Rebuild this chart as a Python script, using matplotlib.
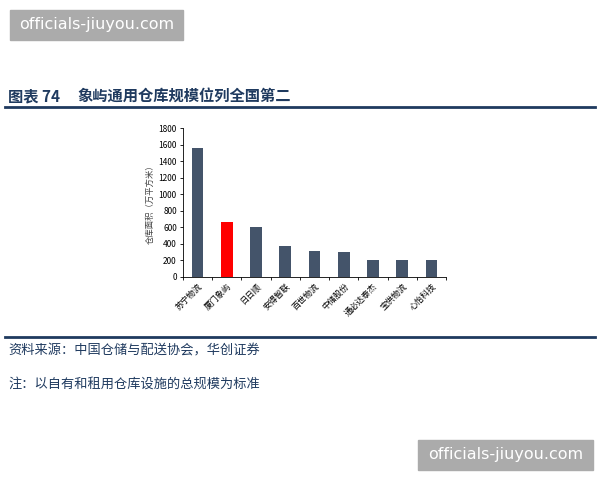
import numpy as np
import matplotlib.pyplot as plt
from matplotlib.patches import Rectangle

plt.rcParams['font.family'] = ['Noto Sans CJK SC', 'DejaVu Sans']

companies = ['苏宁物流', '厦门象屿', '日日顺', '安得智联', '百世物流',
             '中储股份', '通必达泰杰', '宝供物流', '心怡科技']
area = [1560, 660, 600, 380, 320, 300, 200, 200, 200]
yticks = [0, 200, 400, 600, 800, 1000, 1200, 1400, 1600, 1800]

W, H = 600, 480
fig = plt.figure(figsize=(W / 100, H / 100), dpi=100)

def px(x0, y0, x1, y1):
    # pixel box (top-left origin) -> figure fraction
    return [x0 / W, 1 - y1 / H, (x1 - x0) / W, (y1 - y0) / H]

navy = '#1f3a5f'

# watermarks
for (x0, y0, x1, y1) in [(10, 10, 183, 40), (418, 440, 593, 470)]:
    fig.patches.append(Rectangle((x0 / W, 1 - y1 / H), (x1 - x0) / W, (y1 - y0) / H,
                                 transform=fig.transFigure, color='#ababab', zorder=0))
    fig.text((x0 + x1) / 2 / W, 1 - (y0 + y1) / 2 / H, 'officials-jiuyou.com',
             color='white', fontsize=11.5, ha='center', va='center', family='DejaVu Sans')

# title and rules
fig.text(8 / W, 1 - 96 / H, '图表 74', fontsize=11, fontweight='bold', color=navy, va='center')
fig.text(77 / W, 1 - 96 / H, '象屿通用仓库规模位列全国第二', fontsize=11,
         fontweight='bold', color=navy, va='center')
fig.add_artist(plt.Line2D([5 / W, 595 / W], [1 - 107 / H] * 2, color=navy, lw=2))
fig.add_artist(plt.Line2D([5 / W, 595 / W], [1 - 337 / H] * 2, color=navy, lw=2))
fig.text(8 / W, 1 - 351 / H, '资料来源：中国仓储与配送协会，华创证券', fontsize=9.5,
         color=navy, va='center', style='italic')
fig.text(8 / W, 1 - 384 / H, '注：以自有和租用仓库设施的总规模为标准', fontsize=9.5,
         color=navy, va='center', style='italic')

ax = fig.add_axes(px(183, 128, 446, 277))
x = np.arange(len(companies))
colors = ['#44546a'] * len(companies)
colors[1] = '#ff0000'
ax.bar(x, area, width=0.4, color=colors)
ax.set_xlim(-0.5, len(companies) - 0.5)
ax.set_ylim(0, 1800)
ax.set_yticks(yticks)
ax.tick_params(axis='y', labelsize=6, length=2.5, width=0.6, pad=2)
ax.set_xticks(x)
ax.set_xticklabels(companies, rotation=45, ha='right', rotation_mode='anchor', fontsize=6)
ax.tick_params(axis='x', which='major', length=0, pad=3)
ax.set_xticks(np.arange(len(companies) + 1) - 0.5, minor=True)
ax.tick_params(axis='x', which='minor', length=2.5, width=0.6, direction='out')
for s in ['top', 'right']:
    ax.spines[s].set_visible(False)
for s in ['left', 'bottom']:
    ax.spines[s].set_linewidth(0.6)
ax.set_ylabel('仓库面积（万平方米）', fontsize=6, color='#404040', labelpad=3)

fig.savefig('out.png', dpi=100)
